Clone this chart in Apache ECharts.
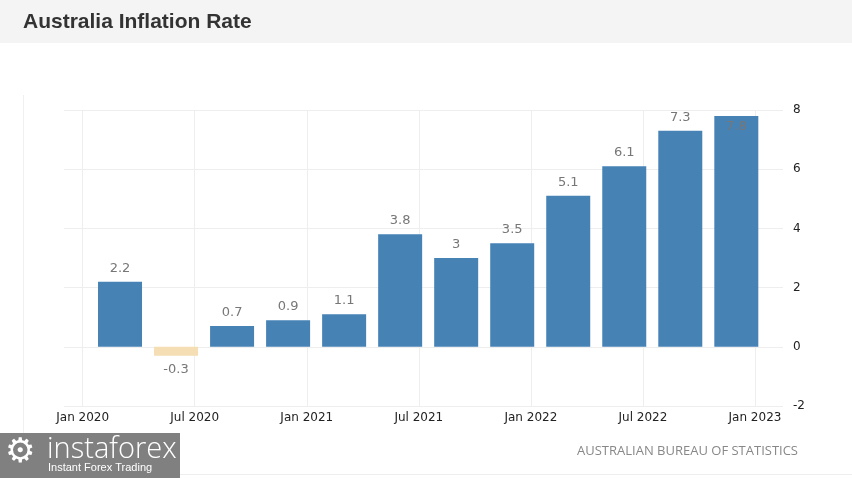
<!DOCTYPE html>
<html>
<head>
<meta charset="utf-8">
<title>Australia Inflation Rate</title>
<script src="https://cdn.jsdelivr.net/npm/echarts@6/dist/echarts.min.js"></script>
<style>
  html, body { margin: 0; padding: 0; background: #fff; }
  #chart { width: 852px; height: 478px; }
</style>
</head>
<body>
<div id="chart"></div>
<script>
// quarterly readings (month of release period)
const periods = ['2020-03', '2020-06', '2020-09', '2020-12', '2021-03', '2021-06',
  '2021-09', '2021-12', '2022-03', '2022-06', '2022-09', '2022-12']
const rates = [2.2, -0.3, 0.7, 0.9, 1.1, 3.8, 3.0, 3.5, 5.1, 6.1, 7.3, 7.8]
const tickMonths = [0, 6, 12, 18, 24, 30, 36]
const tickLabels = ['Jan 2020', 'Jul 2020', 'Jan 2021', 'Jul 2021', 'Jan 2022', 'Jul 2022', 'Jan 2023']

// months counted from Jan 2020
const toMonth = (p) => {
  const [y, m] = p.split('-').map(Number)
  return (y - 2020) * 12 + (m - 1)
}

const chart = echarts.init(document.getElementById('chart'))

const seriesData = periods.map((p, i) => {
  const item = { value: [toMonth(p), rates[i]] }
  if (rates[i] < 0) {
    item.label = { position: 'bottom' }
  }
  if (i === periods.length - 1) {
    item.label = { position: 'insideTop', distance: 4 }
  }
  return item
})

const option = {
  animation: false,
  grid: { left: 64, right: 69, top: 110, bottom: 72 },
  xAxis: {
    type: 'value',
    min: -1,
    max: 37.5,
    axisLine: { show: false },
    axisTick: { show: false, customValues: tickMonths },
    axisLabel: {
      customValues: tickMonths,
      color: '#222',
      fontFamily: 'DejaVu Sans',
      fontSize: 12,
      margin: 6,
      formatter: (v) => tickLabels[tickMonths.indexOf(v)] || ''
    },
    splitLine: { show: true, lineStyle: { color: '#eeeeee' } }
  },
  yAxis: {
    type: 'value',
    position: 'right',
    min: -2,
    max: 8,
    interval: 2,
    axisLine: { show: false },
    axisTick: { show: false },
    axisLabel: {
      color: '#222',
      fontFamily: 'DejaVu Sans',
      fontSize: 12,
      margin: 10
    },
    splitLine: { show: true, lineStyle: { color: '#eeeeee' } }
  },
  series: [
    {
      type: 'bar',
      barWidth: 44,
      data: seriesData,
      itemStyle: {
        color: (p) => (p.value[1] < 0 ? '#f5deb3' : '#4682b4')
      },
      label: {
        show: true,
        position: 'top',
        distance: 7,
        color: '#777',
        fontFamily: 'DejaVu Sans',
        fontSize: 13,
        formatter: (p) => String(p.value[1])
      }
    }
  ],
  graphic: [
    { type: 'rect', left: 0, top: 0, shape: { width: 852, height: 43 }, style: { fill: '#f4f4f4' } },
    {
      type: 'text', left: 23, top: 12,
      style: { text: 'Australia Inflation Rate', fill: '#333', font: 'bold 21px "Liberation Sans"' }
    },
    { type: 'line', shape: { x1: 23.5, y1: 95, x2: 23.5, y2: 478 }, style: { stroke: '#f0f0f0', lineWidth: 1 } },
    { type: 'line', shape: { x1: 180, y1: 474.5, x2: 852, y2: 474.5 }, style: { stroke: '#eeeeee', lineWidth: 1 } },
    {
      type: 'text', right: 54, top: 445,
      style: { text: 'AUSTRALIAN BUREAU OF STATISTICS', fill: '#888', font: '13px "Open Sans"' }
    },
    // watermark logo
    { type: 'rect', left: 0, top: 433, shape: { width: 180, height: 45 }, style: { fill: '#808080' } },
    {
      type: 'text', left: 5, top: 436,
      style: { text: '\u2699', fill: '#fff', font: '34px "DejaVu Sans"' }
    },
    {
      type: 'text', left: 47, top: 435,
      style: { text: 'instaforex', fill: '#fff', font: '300 29px "Open Sans"' }
    },
    {
      type: 'text', left: 48, top: 462,
      style: { text: 'Instant Forex Trading', fill: '#fff', font: '11px "Liberation Sans"' }
    }
  ]
}

chart.setOption(option)
</script>
</body>
</html>
